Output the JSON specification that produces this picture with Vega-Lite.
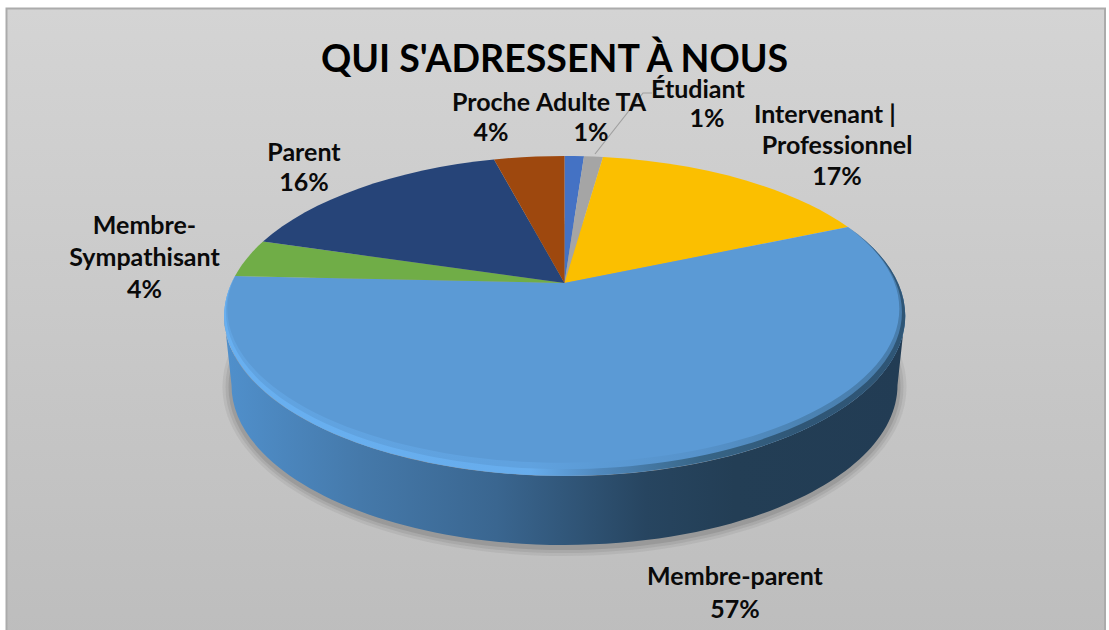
{
"$schema":"https://vega.github.io/schema/vega-lite/v6.json",
"width":1109,"height":630,"autosize":"none","padding":0,"background":"white",
"config":{"view":{"stroke":null}},
"title":{"text":"QUI S'ADRESSENT À NOUS","font":"Lato","fontSize":37.5,"fontWeight":"bold","color":"#000000","anchor":"middle","baseline":"alphabetic","offset":-109},
"data":{"values":[
{"categorie":"Adulte TA","part":1,"etiquette":"Adulte TA\n1%"},
{"categorie":"Étudiant","part":1,"etiquette":"Étudiant\u00a0\u00a0\u00a0\u200b\n1%"},
{"categorie":"Intervenant | Professionnel","part":17,"etiquette":"Intervenant |\u00a0\u00a0\u00a0\u00a0\u200b\nProfessionnel\n17%"},
{"categorie":"Membre-parent","part":57,"etiquette":"Membre-parent\n57%"},
{"categorie":"Membre-Sympathisant","part":4,"etiquette":"Membre-\nSympathisant\n4%"},
{"categorie":"Parent","part":16,"etiquette":"Parent\n16%"},
{"categorie":"Proche","part":4,"etiquette":"Proche\n4%"}
]},
"layer":[
{"transform":[{"filter":"datum.categorie==='Membre-parent'"}],"mark":{"type":"point","filled":true,"opacity":1,"size":4,"shape":"M-548,-306.5 L550.5,-306.5 L550.5,325 L-548,325 Z","stroke":"#ababab","strokeWidth":2,"fill":{"gradient":"linear","x1":0,"y1":0,"x2":0,"y2":1,"stops":[{"offset":0,"color":"#d4d4d4"},{"offset":1,"color":"#bdbdbd"}]}},"encoding":{}},
{"transform":[{"filter":"datum.categorie==='Membre-parent'"}],"mark":{"type":"point","filled":true,"opacity":0.1,"size":4,"fill":"#555555","strokeWidth":0,"shape":"M-332,72 A342,169 0 1 0 352,72 A342,169 0 1 0 -332,72 Z"},"encoding":{}},
{"transform":[{"filter":"datum.categorie==='Membre-parent'"}],"mark":{"type":"point","filled":true,"opacity":0.12,"size":4,"fill":"#555555","strokeWidth":0,"shape":"M-329,72 A339,166 0 1 0 349,72 A339,166 0 1 0 -329,72 Z"},"encoding":{}},
{"transform":[{"filter":"datum.categorie==='Membre-parent'"}],"mark":{"type":"point","filled":true,"opacity":0.18,"size":4,"fill":"#555555","strokeWidth":0,"shape":"M-326,72 A336,163 0 1 0 346,72 A336,163 0 1 0 -326,72 Z"},"encoding":{}},
{"transform":[{"filter":"datum.categorie==='Membre-parent'"}],"mark":{"type":"point","filled":true,"opacity":1,"size":4,"strokeWidth":0,"shape":"M-330.5,1 A340.5,160 0 0 0 350.5,1 L343,70 A333,160 0 0 1 -323,70 Z","fill":{"gradient":"linear","x1":0,"y1":0,"x2":1,"y2":0,"stops":[{"offset":0,"color":"#5090cc"},{"offset":0.2,"color":"#4579aa"},{"offset":0.4,"color":"#3a6690"},{"offset":0.62,"color":"#274560"},{"offset":0.75,"color":"#233e55"},{"offset":1,"color":"#223c54"}]}},"encoding":{}},
{"mark":{"type":"point","filled":true,"opacity":1,"size":4,"strokeWidth":0},"encoding":{
"shape":{"field":"categorie","type":"nominal","legend":null,"scale":{"domain":["Adulte TA","Étudiant","Intervenant | Professionnel","Membre-parent","Membre-Sympathisant","Parent","Proche"],"range":[
"M10,-32 L10,-159 A340.5,160 0 0 1 29.5,-158.7 Z",
"M10,-32 L29.5,-158.7 A340.5,160 0 0 1 48.5,-158 Z",
"M10,-32 L48.5,-158 A340.5,160 0 0 1 293.5,-88 Z",
"M10,-32 L293.5,-88 A340.5,160 0 1 1 -319.5,-39 Z",
"M10,-32 L-319.5,-39 A340.5,160 0 0 1 -291.5,-73.4 Z",
"M10,-32 L-291.5,-73.4 A340.5,160 0 0 1 -60.5,-155.5 Z",
"M10,-32 L-60.5,-155.5 A340.5,160 0 0 1 10,-159 Z"]}},
"color":{"field":"categorie","type":"nominal","legend":null,"scale":{"domain":["Adulte TA","Étudiant","Intervenant | Professionnel","Membre-parent","Membre-Sympathisant","Parent","Proche"],"range":["#4472c4","#a5a5a5","#fbbf00","#5b9ad5","#70ad47","#264478","#9e480e"]}},
"tooltip":{"field":"part","type":"quantitative"}}},
{"transform":[{"filter":"datum.categorie==='Membre-parent'"}],"mark":{"type":"point","filled":true,"opacity":0.4,"size":4,"strokeWidth":0,"shape":"M-319.5,-39 A340.5,160 0 1 0 293.5,-88 A336,154 0 1 1 -319.5,-39 Z","fill":{"gradient":"linear","x1":0,"y1":0,"x2":1,"y2":0,"stops":[{"offset":0,"color":"#69b1f2"},{"offset":0.45,"color":"#68aeee"},{"offset":0.55,"color":"#5b9bd5"},{"offset":0.7,"color":"#4f87bb"},{"offset":0.85,"color":"#34607f"},{"offset":1,"color":"#2c516f"}]}},"encoding":{}},
{"transform":[{"filter":"datum.categorie==='Membre-parent'"}],"mark":{"type":"point","filled":true,"opacity":0.9,"size":4,"strokeWidth":0,"shape":"M-319.5,-39 A340.5,160 0 1 0 293.5,-88 A338,157 0 1 1 -319.5,-39 Z","fill":{"gradient":"linear","x1":0,"y1":0,"x2":1,"y2":0,"stops":[{"offset":0,"color":"#69b1f2"},{"offset":0.45,"color":"#68aeee"},{"offset":0.55,"color":"#4f87bb"},{"offset":0.7,"color":"#34607f"},{"offset":0.85,"color":"#2c516f"},{"offset":1,"color":"#2c516f"}]}},"encoding":{}},
{"transform":[{"filter":"datum.categorie==='Étudiant'"}],"mark":{"type":"point","filled":false,"opacity":1,"size":4,"stroke":"#a0a0a0","strokeWidth":1.2,"shape":"M40.5,-161 L88.5,-222 L97.5,-222"},"encoding":{}},
{"encoding":{"text":{"field":"etiquette","type":"nominal"}},
"layer":[
{"transform":[{"filter":"datum.categorie==='Adulte TA'"}],"mark":{"type":"text","x":591,"y":103,"font":"Lato","fontWeight":"bold","fontSize":25,"lineHeight":30,"lineBreak":"\n","baseline":"middle","align":"center","color":"#0a0a0a"}},
{"transform":[{"filter":"datum.categorie==='Proche'"}],"mark":{"type":"text","x":491,"y":103,"font":"Lato","fontWeight":"bold","fontSize":25,"lineHeight":30,"lineBreak":"\n","baseline":"middle","align":"center","color":"#0a0a0a"}},
{"transform":[{"filter":"datum.categorie==='Étudiant'"}],"mark":{"type":"text","x":707,"y":90,"font":"Lato","fontWeight":"bold","fontSize":25,"lineHeight":29,"lineBreak":"\n","baseline":"middle","align":"center","color":"#0a0a0a"}},
{"transform":[{"filter":"datum.categorie==='Intervenant | Professionnel'"}],"mark":{"type":"text","x":837,"y":115,"font":"Lato","fontWeight":"bold","fontSize":25,"lineHeight":31,"lineBreak":"\n","baseline":"middle","align":"center","color":"#0a0a0a"}},
{"transform":[{"filter":"datum.categorie==='Membre-parent'"}],"mark":{"type":"text","x":735,"y":577,"font":"Lato","fontWeight":"bold","fontSize":25,"lineHeight":33,"lineBreak":"\n","baseline":"middle","align":"center","color":"#0a0a0a"}},
{"transform":[{"filter":"datum.categorie==='Membre-Sympathisant'"}],"mark":{"type":"text","x":144.5,"y":226,"font":"Lato","fontWeight":"bold","fontSize":25,"lineHeight":32,"lineBreak":"\n","baseline":"middle","align":"center","color":"#0a0a0a"}},
{"transform":[{"filter":"datum.categorie==='Parent'"}],"mark":{"type":"text","x":304,"y":153,"font":"Lato","fontWeight":"bold","fontSize":25,"lineHeight":30,"lineBreak":"\n","baseline":"middle","align":"center","color":"#0a0a0a"}}
]}
]
}
